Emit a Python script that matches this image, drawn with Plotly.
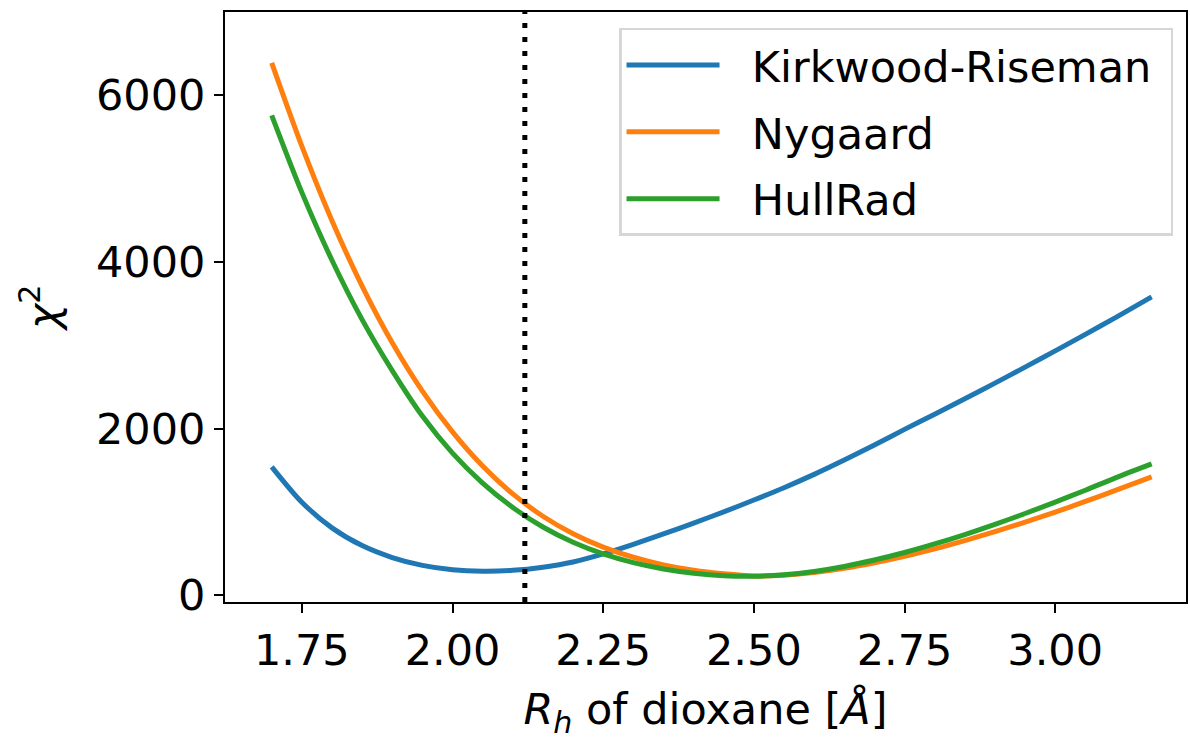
import plotly.graph_objects as go

# R_h of dioxane [Å]
rh = [1.70, 1.75, 1.80, 1.85, 1.90, 1.95, 2.00, 2.05, 2.10, 2.15, 2.20, 2.25,
      2.30, 2.35, 2.40, 2.45, 2.50, 2.55, 2.60, 2.65, 2.70, 2.75, 2.80, 2.85,
      2.90, 2.95, 3.00, 3.05, 3.10, 3.16]

kirkwood_riseman = [1540, 1115, 808, 595, 452, 358, 306, 288, 298, 336, 398, 495,
                    610, 735, 865, 1000, 1142, 1290, 1450, 1622, 1802, 1990, 2172, 2357,
                    2545, 2737, 2932, 3130, 3332, 3580]

nygaard = [6390, 5390, 4495, 3710, 3030, 2450, 1960, 1550, 1215, 947, 737, 577,
           455, 363, 298, 256, 230, 240, 272, 322, 388, 466, 556, 655,
           762, 877, 998, 1125, 1258, 1420]

hullrad = [5760, 4835, 4020, 3308, 2696, 2150, 1705, 1345, 1052, 818, 635, 495,
           390, 315, 264, 234, 228, 245, 285, 345, 422, 512, 615, 728,
           850, 980, 1117, 1260, 1408, 1575]

vline_x = 2.12

x_ticks = [1.75, 2.00, 2.25, 2.50, 2.75, 3.00]
x_tick_labels = ["1.75", "2.00", "2.25", "2.50", "2.75", "3.00"]
y_ticks = [0, 2000, 4000, 6000]
y_tick_labels = ["0", "2000", "4000", "6000"]

series = [
    ("Kirkwood-Riseman", kirkwood_riseman, "#1f77b4"),
    ("Nygaard", nygaard, "#ff7f0e"),
    ("HullRad", hullrad, "#2ca02c"),
]

NB = "\u00a0"
fig = go.Figure()
for name, vals, color in series:
    fig.add_trace(go.Scatter(
        x=rh, y=vals, mode="lines", name=NB * 2 + name + NB, legendgroup=name,
        line=dict(color=color, width=5, shape="spline", smoothing=0.8),
    ))

fig.add_vline(x=vline_x, line=dict(color="black", width=5, dash="5px,9px"))

FONT = "DejaVu Sans"
FS = 43
fig.update_layout(
    width=1190, height=740,
    margin=dict(l=225, r=2, t=12, b=138),
    plot_bgcolor="white", paper_bgcolor="white",
    font=dict(family=FONT, size=FS, color="black"),
    showlegend=True,
    legend=dict(
        x=0.9865, xanchor="right", y=0.973, yanchor="top",
        bordercolor="#d6d6d6", borderwidth=2.5,
        bgcolor="rgba(255,255,255,0.8)",
        itemwidth=93, tracegroupgap=8, traceorder="grouped",
        font=dict(family=FONT, size=FS, color="black"),
    ),
)

axis_common = dict(
    ticks="outside", ticklen=9, tickwidth=2, tickcolor="black",
    showline=True, linewidth=2, linecolor="black", mirror=True,
    showgrid=False, zeroline=False,
    tickfont=dict(family=FONT, size=FS, color="black"),
)

fig.update_xaxes(
    range=[1.6225, 3.217], tickvals=x_ticks, ticktext=x_tick_labels,
    title=dict(text="<i>R<sub>h</sub></i> of dioxane [<i>Å</i>]",
               font=dict(family=FONT, size=FS, color="black"), standoff=29),
    **axis_common,
)
fig.update_yaxes(
    range=[-82, 7000], tickvals=y_ticks, ticktext=y_tick_labels,
    title=dict(text="<i>χ</i><sup>2</sup>",
               font=dict(family=FONT, size=FS, color="black"), standoff=24),
    **axis_common,
)

fig.write_html("out.html")
